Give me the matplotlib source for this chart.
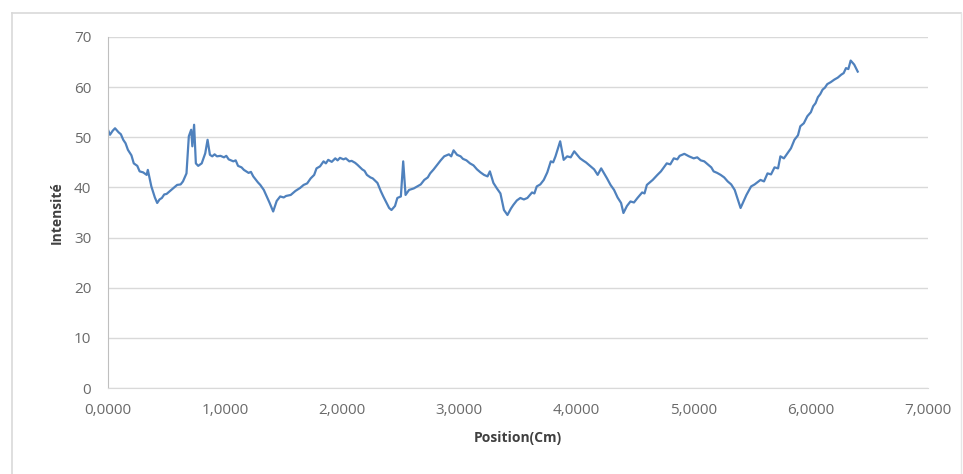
import matplotlib.pyplot as plt
from matplotlib.lines import Line2D
from matplotlib.ticker import FuncFormatter

# Profil d'intensité le long de l'échantillon
position = [
    0.00, 0.017, 0.04, 0.06, 0.09, 0.11, 0.13, 0.15, 0.17, 0.20, 0.22, 0.25,
    0.27, 0.30, 0.33, 0.34, 0.37, 0.40, 0.42, 0.44, 0.46, 0.48, 0.50, 0.53,
    0.56, 0.59, 0.62, 0.64, 0.67, 0.69, 0.71, 0.72, 0.735, 0.75, 0.77, 0.80,
    0.83, 0.85, 0.87, 0.89, 0.91, 0.93, 0.96, 0.99, 1.01, 1.03, 1.07, 1.09,
    1.11, 1.14, 1.16, 1.20, 1.22, 1.24, 1.28, 1.30, 1.33, 1.38, 1.41, 1.44,
    1.47, 1.50, 1.52, 1.56, 1.58, 1.60, 1.64, 1.67, 1.70, 1.73, 1.76, 1.78,
    1.81, 1.84, 1.86, 1.88, 1.91, 1.94, 1.96, 1.98, 2.01, 2.03, 2.06, 2.08,
    2.11, 2.13, 2.17, 2.19, 2.21, 2.24, 2.26, 2.30, 2.33, 2.35, 2.40, 2.42,
    2.45, 2.47, 2.50, 2.52, 2.54, 2.57, 2.61, 2.64, 2.67, 2.70, 2.73, 2.75,
    2.78, 2.81, 2.84, 2.87, 2.91, 2.93, 2.95, 2.98, 3.01, 3.03, 3.06, 3.09,
    3.12, 3.15, 3.18, 3.21, 3.24, 3.26, 3.29, 3.32, 3.35, 3.38, 3.41, 3.44,
    3.46, 3.49, 3.52, 3.55, 3.58, 3.62, 3.64, 3.66, 3.69, 3.72, 3.75, 3.78,
    3.80, 3.82, 3.86, 3.89, 3.92, 3.95, 3.98, 4.03, 4.06, 4.08, 4.12, 4.15,
    4.18, 4.21, 4.26, 4.29, 4.32, 4.35, 4.38, 4.40, 4.43, 4.46, 4.49, 4.52,
    4.56, 4.58, 4.60, 4.65, 4.69, 4.72, 4.77, 4.80, 4.83, 4.86, 4.88, 4.92,
    4.96, 5.00, 5.03, 5.06, 5.09, 5.12, 5.15, 5.17, 5.20, 5.23, 5.26, 5.29,
    5.32, 5.35, 5.40, 5.45, 5.49, 5.52, 5.57, 5.60, 5.63, 5.66, 5.69, 5.72,
    5.74, 5.77, 5.80, 5.83, 5.86, 5.89, 5.91, 5.94, 5.97, 6.00, 6.02, 6.04,
    6.06, 6.08, 6.10, 6.12, 6.14, 6.17, 6.20, 6.23, 6.26, 6.28, 6.30, 6.32,
    6.34, 6.37, 6.40,
]
intensite = [
    51.5, 50.5, 51.3, 51.8, 51.0, 50.6, 49.5, 48.8, 47.5, 46.4, 44.8, 44.3,
    43.2, 43.0, 42.5, 43.5, 40.2, 38.0, 36.9, 37.6, 37.9, 38.6, 38.7, 39.3,
    39.9, 40.5, 40.6, 41.2, 42.8, 50.2, 51.5, 48.2, 52.5, 44.8, 44.3, 44.8,
    46.8, 49.5, 46.5, 46.2, 46.6, 46.2, 46.3, 46.0, 46.3, 45.6, 45.2, 45.4,
    44.3, 44.0, 43.5, 42.9, 43.1, 42.2, 41.0, 40.5, 39.5, 36.9, 35.2, 37.3,
    38.2, 38.0, 38.3, 38.5, 38.9, 39.3, 39.9, 40.5, 40.8, 41.8, 42.5, 43.8,
    44.2, 45.2, 44.8, 45.5, 45.1, 45.8, 45.4, 45.9, 45.6, 45.8, 45.2, 45.3,
    44.9, 44.5, 43.6, 43.3, 42.5, 42.0, 41.8, 40.9, 39.2, 38.2, 35.9, 35.5,
    36.3, 37.9, 38.2, 45.2, 38.5, 39.5, 39.8, 40.2, 40.6, 41.5, 42.0, 42.8,
    43.6, 44.5, 45.4, 46.2, 46.6, 46.2, 47.4, 46.5, 46.2, 45.7, 45.4, 44.8,
    44.4, 43.6, 43.0, 42.5, 42.2, 43.2, 40.9, 39.8, 38.8, 35.5, 34.5, 35.8,
    36.5, 37.4, 37.9, 37.6, 37.9, 39.0, 38.8, 40.2, 40.6, 41.5, 43.0, 45.2,
    45.0, 46.2, 49.2, 45.5, 46.2, 46.0, 47.2, 45.8, 45.3, 45.0, 44.2, 43.6,
    42.5, 43.8, 41.8, 40.5, 39.5, 38.0, 36.9, 34.9, 36.3, 37.2, 37.0, 37.9,
    39.0, 38.8, 40.5, 41.5, 42.5, 43.2, 44.8, 44.6, 45.8, 45.6, 46.3, 46.7,
    46.2, 45.8, 46.0, 45.4, 45.2, 44.6, 44.0, 43.2, 42.9, 42.5, 42.0, 41.2,
    40.6, 39.5, 35.9, 38.5, 40.2, 40.6, 41.5, 41.2, 42.8, 42.6, 44.0, 43.8,
    46.2, 45.8, 46.8, 47.8, 49.5, 50.4, 52.2, 52.8, 54.2, 55.0, 56.2, 56.8,
    58.0, 58.6, 59.5, 59.9, 60.6, 61.0, 61.5, 61.9, 62.5, 62.8, 63.8, 63.6,
    65.3, 64.5, 63.1,
]

x_ticks = [0, 1, 2, 3, 4, 5, 6, 7]
y_ticks = [0, 10, 20, 30, 40, 50, 60, 70]

plt.rcParams['font.family'] = ['Open Sans', 'DejaVu Sans']

fig = plt.figure(figsize=(9.63, 4.74), dpi=100)
ax = fig.add_axes([108 / 963, 1 - 388 / 474, 820 / 963, 351 / 474])

ax.plot(position, intensite, color='#4F81BD', linewidth=1.6,
        solid_joinstyle='round')

ax.set_xlim(0, 7)
ax.set_ylim(0, 70)
ax.set_xticks(x_ticks)
ax.set_yticks(y_ticks)
ax.xaxis.set_major_formatter(FuncFormatter(lambda v, _: f"{v:.4f}".replace('.', ',')))
ax.yaxis.set_major_formatter(FuncFormatter(lambda v, _: f"{v:.0f}"))

ax.grid(axis='y', color='#D9D9D9', linewidth=1.0)
ax.set_axisbelow(True)
for side in ['top', 'right']:
    ax.spines[side].set_visible(False)
ax.spines['left'].set_color('#BFBFBF')
ax.spines['bottom'].set_color('#D9D9D9')
ax.tick_params(axis='both', length=0, labelsize=11, colors='#6A6A6A')
ax.tick_params(axis='y', pad=12)
ax.tick_params(axis='x', pad=11)

ax.set_xlabel('Position(Cm)', fontsize=10, fontweight='bold', color='#404040',
              labelpad=9)
ax.set_ylabel('Intensité', fontsize=10, fontweight='bold', color='#404040',
              labelpad=7)

# cadre du graphique
fig.add_artist(Line2D([12 / 963, 12 / 963], [0, 1 - 13 / 474],
                      transform=fig.transFigure, color='#D9D9D9', linewidth=1.2))
fig.add_artist(Line2D([12 / 963, 961 / 963], [1 - 13 / 474, 1 - 13 / 474],
                      transform=fig.transFigure, color='#D9D9D9', linewidth=1.2))
fig.add_artist(Line2D([961 / 963, 961 / 963], [0, 1 - 13 / 474],
                      transform=fig.transFigure, color='#E6E6E6', linewidth=1.0))

fig.savefig('out.png', dpi=100)
